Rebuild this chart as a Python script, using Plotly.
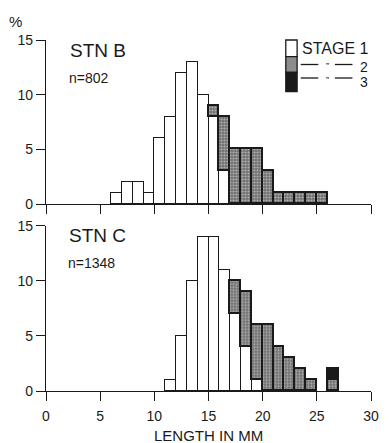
import plotly.graph_objects as go

# ---- data ----
# STN B (n=802), % per 1-mm length class (key = lower class limit, mm), by stage
b_stage1 = {6: 1, 7: 2, 8: 2, 9: 1, 10: 6, 11: 8, 12: 12, 13: 13, 14: 10, 15: 8, 16: 3}
b_stage2 = {15: 1, 16: 5, 17: 5, 18: 5, 19: 5, 20: 3, 21: 1, 22: 1, 23: 1, 24: 1, 25: 1}
b_stage3 = {}

# STN C (n=1348)
c_stage1 = {11: 1, 12: 5, 13: 10, 14: 14, 15: 14, 16: 11, 17: 7, 18: 4, 19: 1}
c_stage2 = {17: 3, 18: 5, 19: 5, 20: 6, 21: 4, 22: 3, 23: 2, 24: 1, 26: 1}
c_stage3 = {26: 1}

x_ticks = [0, 5, 10, 15, 20, 25, 30]
y_ticks = [0, 5, 10, 15]

FONT = "Liberation Sans, Arial, Helvetica, sans-serif"
INK = "#1a1a1a"


def series(d):
    xs = [b + 0.5 for b in sorted(d)]
    ys = [d[b] for b in sorted(d)]
    return xs, ys


fig = go.Figure()

stage_styles = [
    dict(color="white", line=dict(color=INK, width=1)),
    dict(color="#707070", line=dict(color=INK, width=1.8),
         pattern=dict(shape=".", bgcolor="#707070", fgcolor="#eeeeee", size=3, solidity=0.4)),
    dict(color=INK, line=dict(color=INK, width=1.8)),
]

for (s1, s2, s3), xa, ya in [((b_stage1, b_stage2, b_stage3), "x", "y"),
                             ((c_stage1, c_stage2, c_stage3), "x2", "y2")]:
    for d, st in zip((s1, s2, s3), stage_styles):
        if not d:
            continue
        xs, ys = series(d)
        fig.add_trace(go.Bar(x=xs, y=ys, width=1, marker=st, xaxis=xa, yaxis=ya,
                             showlegend=False, hoverinfo="x+y"))

axis_common = dict(showline=True, linecolor=INK, linewidth=1.3, ticks="outside",
                   tickcolor=INK, tickwidth=1.3, showgrid=False, zeroline=False,
                   tickfont=dict(family=FONT, size=14, color=INK))

L, R, T, B = 46, 10, 40, 52
W, H = 389, 443
ph = H - T - B
top_dom = [(391 - 204) / ph, 1.0]
bot_dom = [0.0, (391 - 225.7) / ph]

fig.update_layout(
    width=W, height=H,
    margin=dict(l=L, r=R, t=T, b=B, pad=0),
    paper_bgcolor="white", plot_bgcolor="white",
    barmode="stack", bargap=0,
    showlegend=False,
    font=dict(family=FONT, color=INK),
    xaxis=dict(domain=[0, 1], range=[0, 30], anchor="y", tickvals=x_ticks,
               showticklabels=False, ticklen=9, **axis_common),
    yaxis=dict(domain=top_dom, range=[0, 15], anchor="x", tickvals=y_ticks,
               ticklen=9, **axis_common),
    xaxis2=dict(domain=[0, 1], range=[0, 30], anchor="y2", tickvals=x_ticks,
                ticklen=9, ticklabelstandoff=3, **axis_common),
    yaxis2=dict(domain=bot_dom, range=[0, 15], anchor="x2", tickvals=y_ticks,
                ticklen=9, **axis_common),
)


def px(xp):
    return (xp - L) / (W - L - R)


def py(yp):
    return (H - B - yp) / ph


ann = []


def text(s, x, y, size, xanchor="left"):
    ann.append(dict(text=s, x=px(x), y=py(y), xref="paper", yref="paper",
                    xanchor=xanchor, yanchor="middle", showarrow=False,
                    font=dict(family=FONT, size=size, color=INK)))


text("%", 15, 22, 15, "center")
text("STN B", 69, 50.5, 19)
text("n=802", 68, 78, 14)
text("STN C", 68, 235.5, 19)
text("n=1348", 67, 262.5, 14)
text("LENGTH IN MM", 212, 435.5, 15, "center")
text("STAGE 1", 306, 48.3, 16)
text("\u201d", 334, 66, 9, "center")
text("2", 372, 66.5, 14, "center")
text("\u201d", 334, 79.5, 9, "center")
text("3", 372, 81.5, 14, "center")
fig.update_layout(annotations=ann)

shapes = []
# legend swatches
for y0, y1, fill in [(40, 56.7, "white"), (56.7, 72.3, "#8c8c8c"), (72.3, 91.7, INK)]:
    shapes.append(dict(type="rect", xref="paper", yref="paper",
                       x0=px(291.7), x1=px(303.3), y0=py(y1), y1=py(y0),
                       fillcolor=fill, line=dict(color=INK, width=1.3)))
# legend ditto dashes
for yy in (64.5, 78):
    for x0, x1 in ((307, 325), (342, 360)):
        shapes.append(dict(type="line", xref="paper", yref="paper",
                           x0=px(x0), x1=px(x1), y0=py(yy), y1=py(yy),
                           line=dict(color=INK, width=1.3)))
fig.update_layout(shapes=shapes)

fig.write_html("out.html", config={"displayModeBar": False},
               post_script="document.body.style.margin='0';document.body.style.padding='0';")
